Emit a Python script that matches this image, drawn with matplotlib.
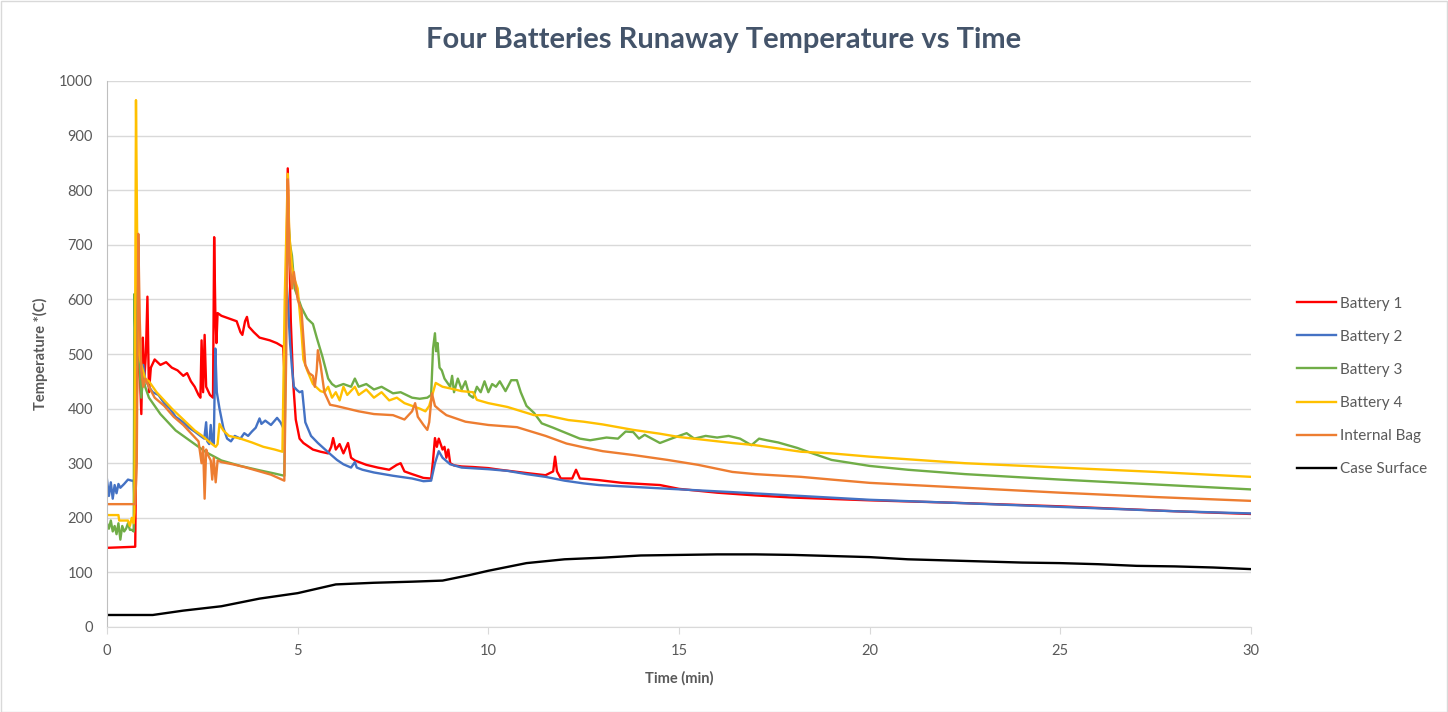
import matplotlib
matplotlib.use("Agg")
import matplotlib.pyplot as plt
from matplotlib.patches import Rectangle

plt.rcParams['font.family'] = ['Lato', 'DejaVu Sans']

# ---------------- data ----------------
b1_t = [0, 0.74, 0.78, 0.82, 0.86, 0.9, 0.94, 0.98, 1.02, 1.06, 1.1, 1.15, 1.25, 1.4, 1.55, 1.7, 1.85,
        2.0, 2.1, 2.2, 2.3, 2.4, 2.45, 2.48, 2.52, 2.56, 2.6, 2.7, 2.78, 2.81, 2.84, 2.87, 2.9, 3.0,
        3.2, 3.4, 3.5, 3.55, 3.62, 3.67, 3.72, 3.85, 4.0, 4.27, 4.45, 4.62, 4.66, 4.7, 4.74, 4.78,
        4.82, 4.88, 4.95, 5.05, 5.15, 5.4, 5.6, 5.8, 5.88, 5.93, 6.0, 6.1, 6.2, 6.32, 6.4, 6.5, 6.8,
        7.1, 7.4, 7.6, 7.7, 7.8, 8.0, 8.3, 8.5, 8.55, 8.6, 8.65, 8.7, 8.8, 8.85, 8.9, 8.95, 9.0, 9.1,
        9.3, 9.6, 10.0, 10.3, 11.0, 11.5, 11.7, 11.75, 11.8, 11.9, 12.2, 12.3, 12.4, 12.6, 12.9, 13.5,
        14.5, 15.0, 16.0, 17.0, 18.0, 20.0, 22.0, 25.0, 28.0, 30.0]
b1_v = [145, 147, 420, 520, 470, 390, 530, 455, 500, 605, 430, 475, 490, 480, 485, 475, 470,
        460, 465, 450, 440, 425, 420, 525, 430, 535, 440, 425, 420, 714, 580, 520, 575, 570,
        565, 560, 540, 535, 560, 568, 550, 540, 530, 525, 520, 513, 455, 620, 840, 700,
        560, 450, 380, 345, 337, 325, 321, 318, 330, 346, 325, 335, 318, 337, 310, 305, 297,
        292, 288, 297, 300, 285, 280, 273, 272, 305, 346, 330, 345, 325, 330, 310, 325, 300, 296,
        294, 293, 291, 288, 282, 278, 285, 312, 285, 272, 272, 288, 272, 271, 269, 264,
        260, 253, 246, 241, 237, 232, 228, 221, 212, 207]

b2_t = [0, 0.05, 0.1, 0.15, 0.2, 0.25, 0.3, 0.35, 0.45, 0.55, 0.65, 0.7, 0.72, 0.74, 0.78, 0.82,
        0.88, 0.95, 1.0, 1.1, 1.2, 1.35, 1.5, 1.65, 1.8, 2.0, 2.15, 2.3, 2.45, 2.55, 2.6, 2.63,
        2.68, 2.72, 2.76, 2.8, 2.84, 2.88, 2.95, 3.05, 3.15, 3.25, 3.35, 3.5, 3.6, 3.7, 3.8, 3.9,
        4.0, 4.05, 4.15, 4.3, 4.46, 4.55, 4.62, 4.65, 4.7, 4.74, 4.8, 4.85, 4.9, 4.98, 5.05, 5.12,
        5.2, 5.35, 5.53, 5.8, 6.03, 6.2, 6.4, 6.5, 6.55, 6.7, 7.0, 7.5, 8.0, 8.3, 8.5, 8.6, 8.7,
        8.8, 9.0, 9.3, 10.0, 10.5, 11.0, 11.5, 12.0, 12.5, 12.9, 14.5, 16.4, 18.2, 20.0, 22.0, 25.0,
        28.0, 30.0]
b2_v = [270, 240, 265, 235, 260, 245, 262, 255, 262, 270, 268, 268, 230, 560, 480, 520,
        470, 480, 455, 440, 430, 425, 410, 400, 385, 375, 365, 358, 350, 345, 375, 340,
        335, 370, 340, 335, 510, 430, 400, 365, 345, 340, 350, 345, 355, 350, 358, 365,
        382, 372, 378, 370, 383, 375, 365, 370, 640, 600, 520, 475, 440, 434, 430, 432,
        375, 350, 337, 320, 306, 298, 292, 302, 292, 288, 283, 277, 272, 267, 268, 300, 322,
        310, 298, 292, 289, 286, 280, 275, 268, 263, 260, 254, 247, 240, 233, 228, 220,
        212, 208]

b3_t = [0, 0.05, 0.1, 0.15, 0.2, 0.25, 0.3, 0.35, 0.4, 0.45, 0.5, 0.55, 0.6, 0.65, 0.7, 0.72,
        0.76, 0.8, 0.84, 0.9, 0.95, 1.0, 1.1, 1.25, 1.4, 1.6, 1.8, 2.0, 2.3, 2.6, 3.0, 3.5, 4.0,
        4.4, 4.65, 4.7, 4.76, 4.8, 4.85, 4.92, 5.0, 5.1, 5.25, 5.4, 5.5, 5.65, 5.8, 5.9, 6.0, 6.2,
        6.4, 6.5, 6.6, 6.8, 7.0, 7.2, 7.5, 7.7, 8.0, 8.2, 8.4, 8.5, 8.55, 8.6, 8.63, 8.67, 8.72,
        8.78, 8.85, 8.9, 9.0, 9.05, 9.1, 9.2, 9.3, 9.4, 9.5, 9.6, 9.7, 9.8, 9.9, 10.0, 10.1, 10.2,
        10.3, 10.45, 10.6, 10.75, 10.85, 11.0, 11.2, 11.4, 11.7, 12.05, 12.4, 12.67, 13.1, 13.4,
        13.6, 13.8, 13.95, 14.1, 14.5, 14.8, 15.0, 15.2, 15.4, 15.7, 16.0, 16.3, 16.6, 16.9, 17.1,
        17.3, 17.6, 18.1, 18.5, 19.0, 20.0, 21.0, 22.5, 25.0, 27.5, 30.0]
b3_v = [190, 180, 195, 175, 185, 170, 190, 160, 185, 175, 180, 190, 178, 178, 175, 610,
        480, 720, 490, 420, 460, 440, 420, 405, 390, 375, 360, 350, 335, 320, 305, 295, 287,
        281, 277, 620, 740, 700, 680, 620, 605, 585, 565, 555, 530, 495, 455, 445, 440, 445,
        440, 455, 440, 445, 435, 440, 428, 430, 420, 418, 420, 425, 510, 538, 505, 520, 475,
        470, 455, 450, 440, 460, 430, 455, 435, 450, 425, 420, 440, 430, 450, 430, 445, 440,
        450, 432, 452, 452, 430, 405, 392, 373, 365, 355, 345, 342, 347, 345,
        358, 357, 345, 352, 337, 345, 350, 355, 345, 350, 347, 350, 345, 333, 345,
        342, 338, 328, 318, 306, 295, 288, 280, 270, 261, 252]

b4_t = [0, 0.3, 0.32, 0.55, 0.6, 0.65, 0.7, 0.72, 0.76, 0.8, 0.84, 0.9, 1.0, 1.1, 1.3, 1.5, 1.7,
        2.0, 2.3, 2.5, 2.7, 2.85, 2.9, 2.95, 3.05, 3.2, 3.5, 3.8, 4.1, 4.4, 4.6, 4.66, 4.74, 4.78,
        4.85, 4.9, 5.0, 5.1, 5.15, 5.25, 5.4, 5.6, 5.7, 5.8, 5.9, 6.0, 6.1, 6.2, 6.3, 6.5, 6.6,
        6.8, 7.0, 7.2, 7.4, 7.6, 7.8, 8.0, 8.2, 8.35, 8.45, 8.55, 8.62, 8.8, 9.0, 9.3, 9.6, 9.7,
        10.0, 10.5, 11.2, 11.5, 12.1, 12.5, 13.0, 13.8, 14.5, 15.0, 16.4, 17.0, 18.2, 19.0, 20.0,
        22.5, 25.0, 27.5, 30.0]
b4_v = [205, 205, 195, 195, 185, 200, 190, 210, 965, 640, 500, 480, 455, 450, 430, 415, 400,
        380, 360, 350, 338, 330, 335, 372, 360, 350, 345, 338, 330, 325, 321, 600, 830, 720,
        660, 640, 620, 540, 490, 470, 445, 432, 430, 440, 420, 430, 415, 440, 425, 440, 425,
        435, 420, 430, 415, 420, 410, 405, 400, 395, 405, 430, 447, 440, 437, 432, 430, 416,
        410, 403, 388, 388, 379, 376, 371, 361, 354, 348, 337, 333, 321, 318, 312,
        300, 292, 284, 275]

bag_t = [0, 0.74, 0.78, 0.82, 0.86, 0.9, 0.95, 1.0, 1.1, 1.25, 1.5, 1.75, 2.0, 2.2, 2.4, 2.48,
         2.52, 2.56, 2.6, 2.65, 2.72, 2.76, 2.8, 2.85, 2.9, 3.0, 3.3, 3.6, 4.0, 4.3, 4.65, 4.7,
         4.74, 4.78, 4.85, 4.9, 5.0, 5.1, 5.2, 5.3, 5.4, 5.45, 5.5, 5.53, 5.6, 5.7, 5.85, 6.0, 6.3,
         6.6, 7.0, 7.5, 7.8, 8.0, 8.08, 8.15, 8.3, 8.4, 8.45, 8.52, 8.6, 8.73, 8.9, 9.4, 10.0,
         10.75, 11.5, 12.05, 12.5, 13.0, 13.8, 14.7, 15.5, 16.4, 17.0, 18.2, 19.0, 20.0, 22.5,
         25.0, 27.5, 30.0]
bag_v = [225, 225, 300, 720, 560, 470, 440, 455, 440, 420, 405, 385, 370, 355, 340, 300,
         330, 235, 325, 315, 305, 270, 310, 265, 305, 302, 298, 293, 285, 279, 268, 500,
         820, 680, 620, 650, 600, 580, 480, 465, 460, 440, 470, 507, 480, 430, 407, 405, 400,
         395, 390, 388, 380, 395, 410, 385, 370, 361, 375, 428, 405, 397, 388, 376, 370,
         366, 350, 336, 329, 322, 315, 306, 297, 284, 280, 275, 270, 264, 255,
         246, 238, 231]

case_t = [0, 1.2, 2.0, 3.0, 4.0, 5.0, 6.0, 7.0, 8.0, 8.8, 9.5, 10.0, 11.0, 12.0, 13.0, 14.0,
          15.0, 16.0, 17.0, 18.0, 19.0, 20.0, 21.0, 22.0, 23.0, 24.0, 25.0, 26.0, 27.0, 28.0,
          29.0, 30.0]
case_v = [22, 22, 30, 38, 52, 62, 78, 81, 83, 85, 95, 103, 117, 124, 127, 131,
          132, 133, 133, 132, 130, 128, 124, 122, 120, 118, 117, 115, 112, 111,
          109, 106]

series = [
    ("Battery 1", b1_t, b1_v, "#FF0000"),
    ("Battery 2", b2_t, b2_v, "#4472C4"),
    ("Battery 3", b3_t, b3_v, "#70AD47"),
    ("Battery 4", b4_t, b4_v, "#FFC000"),
    ("Internal Bag", bag_t, bag_v, "#ED7D31"),
    ("Case Surface", case_t, case_v, "#000000"),
]

x_ticks = [0, 5, 10, 15, 20, 25, 30]
y_ticks = [0, 100, 200, 300, 400, 500, 600, 700, 800, 900, 1000]

# ---------------- figure ----------------
W, H = 1448, 712
fig = plt.figure(figsize=(W / 100, H / 100), dpi=100)
fig.patch.set_facecolor("white")
fig.patches.append(Rectangle((0.5 / W, 0.5 / H), 1 - 1.5 / W, 1 - 1.5 / H, transform=fig.transFigure,
                             fill=False, edgecolor="#D9D9D9", linewidth=1.0))

ax = fig.add_axes([107 / W, 1 - 627 / H, 1144 / W, 546 / H])
txt = "#595959"

for name, t, v, c in series:
    ax.plot(t, v, color=c, linewidth=1.7, label=name, solid_joinstyle="round")

ax.set_xlim(0, 30)
ax.set_ylim(0, 1000)
ax.set_xticks(x_ticks)
ax.set_yticks(y_ticks)
ax.set_xticklabels([str(x) for x in x_ticks])
ax.set_yticklabels([str(y) for y in y_ticks])
ax.grid(axis="y", color="#D9D9D9", linewidth=1.0)
ax.set_axisbelow(True)
for s in ["top", "right"]:
    ax.spines[s].set_visible(False)
ax.spines["left"].set_color("#BFBFBF")
ax.spines["bottom"].set_color("#D9D9D9")
ax.tick_params(axis="y", length=0, pad=10, labelcolor=txt, labelsize=10.5)
ax.tick_params(axis="x", length=5, color="#D9D9D9", pad=7, labelcolor=txt, labelsize=10.5)

ax.set_xlabel("Time (min)", fontsize=10.5, fontweight="bold", color=txt, labelpad=10)
ax.set_ylabel("Temperature *(C)", fontsize=10.5, fontweight="bold", color=txt, labelpad=8)

fig.text(0.5, 1 - 40 / H, "Four Batteries Runaway Temperature vs Time", ha="center", va="center",
         fontsize=21, fontweight="bold", color="#44546A")

ax.legend(loc="upper left", bbox_to_anchor=(1289 / W, 1 - 289 / H), bbox_transform=fig.transFigure,
          frameon=False, fontsize=11, handlelength=2.6, handletextpad=0.25, labelspacing=1.25,
          borderpad=0, labelcolor=txt)

fig.savefig("out.png", dpi=100, facecolor="white")
